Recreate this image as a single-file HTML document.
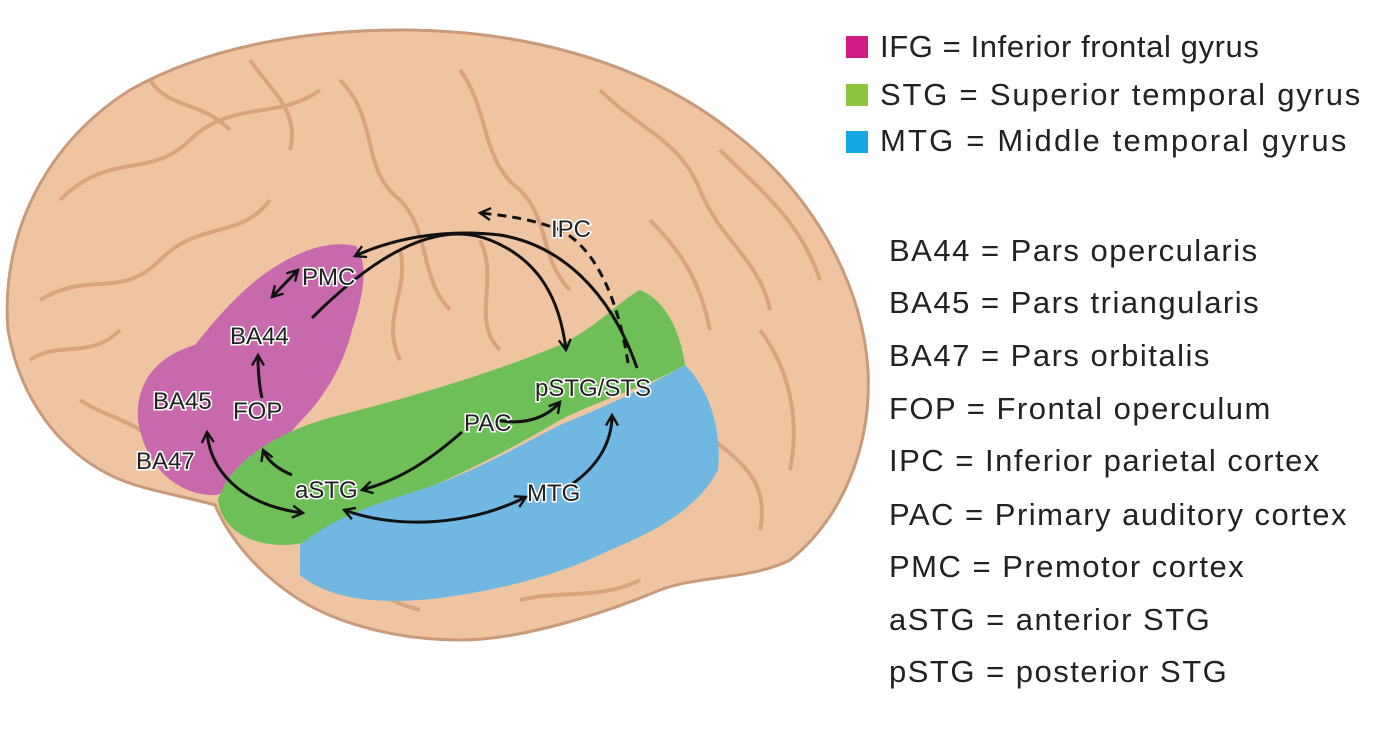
<!DOCTYPE html>
<html><head><meta charset="utf-8"><style>
html,body{margin:0;padding:0;background:#fff;}
body{width:1377px;height:733px;overflow:hidden;position:relative;font-family:"Liberation Sans",Arial,sans-serif;}
.lg{position:absolute;left:889px;font-size:31px;color:#222;line-height:1;letter-spacing:1.5px;white-space:nowrap;}
.sq{position:absolute;left:846px;width:22px;height:22px;}
</style></head><body>
<svg width="880" height="733" style="position:absolute;left:0;top:0">
<defs>
<marker id="a" viewBox="0 0 10 10" refX="8" refY="5" markerWidth="5" markerHeight="5" orient="auto-start-reverse" markerUnits="strokeWidth">
<path d="M1,1 L8,5 L1,9" fill="none" stroke="#111" stroke-width="1.6"/></marker>
</defs>
<path d="M8,330 C0,230 50,140 130,90 C210,45 310,30 400,30 C520,30 640,60 730,130 C810,190 862,280 868,370 C872,450 840,520 790,560 C750,580 700,575 660,590 C600,615 520,640 460,640 C400,640 340,625 300,600 C260,575 230,540 215,505 C180,495 140,490 110,475 C60,450 20,400 8,330 Z" fill="#efc4a0" stroke="#c99a7a" stroke-width="3"/>
<g fill="none" stroke="#cf9a76" stroke-width="4" opacity="0.75">
<path d="M60,200 C110,150 150,180 190,140 C230,100 280,120 320,90"/>
<path d="M40,300 C90,270 120,300 160,260 C200,220 240,240 270,200"/>
<path d="M340,80 C380,120 360,170 400,200 C430,230 420,280 450,310"/>
<path d="M460,70 C490,110 480,160 520,190 C550,220 540,260 570,290"/>
<path d="M600,90 C640,130 680,140 700,190 C720,240 760,260 770,310"/>
<path d="M720,150 C760,190 800,220 820,280"/>
<path d="M760,330 C790,370 800,420 790,470"/>
<path d="M400,250 C410,290 380,320 400,360"/>
<path d="M480,240 C500,280 470,320 500,350"/>
<path d="M80,400 C110,420 140,420 160,450"/>
<path d="M700,430 C740,460 770,480 760,530"/>
<path d="M150,80 C170,110 200,100 230,130"/>
<path d="M30,360 C60,340 90,360 120,330"/>
<path d="M250,60 C270,90 300,110 290,150"/>
<path d="M650,220 C680,250 700,280 710,330"/>
<path d="M330,560 C360,580 380,600 420,610"/>
<path d="M520,600 C560,590 600,600 640,580"/>
</g>
<path d="M138,420 C135,380 160,355 195,345 C215,320 240,290 270,270 C300,250 330,240 356,246 C370,265 362,300 352,330 C342,370 322,400 297,425 C272,455 242,485 217,495 C182,497 145,470 138,420 Z" fill="#c869ae"/>
<path d="M218,500 C230,460 280,430 340,415 C420,395 500,370 560,345 C600,325 620,300 640,290 C665,300 680,330 685,365 C650,385 600,400 560,420 C510,450 460,475 400,500 C350,520 320,545 285,545 C250,545 222,530 218,500 Z" fill="#6fbf58"/>
<path d="M300,545 C330,520 370,505 420,490 C480,470 520,445 560,425 C610,405 650,385 685,365 C710,390 722,430 718,470 C700,505 660,530 610,550 C560,575 500,590 440,598 C380,605 330,600 300,575 Z" fill="#70b8e2"/>
<g fill="none" stroke="#111" stroke-width="3">
<path d="M272,297 L298,270" marker-start="url(#a)" marker-end="url(#a)"/>
<path d="M262,398 C259,385 258,370 258,355" marker-end="url(#a)"/>
<path d="M207,432 C210,470 240,505 303,513" marker-start="url(#a)" marker-end="url(#a)"/>
<path d="M292,475 C280,470 268,462 263,450" marker-end="url(#a)"/>
<path d="M462,432 C430,460 400,480 362,490" marker-end="url(#a)"/>
<path d="M497,420 C520,425 545,420 560,402" marker-end="url(#a)"/>
<path d="M344,510 C400,530 470,525 526,497" marker-start="url(#a)" marker-end="url(#a)"/>
<path d="M566,488 C595,470 612,445 612,415" marker-end="url(#a)"/>
<path d="M312,318 C380,250 440,220 490,240 C540,260 560,300 566,350" marker-end="url(#a)"/>
<path d="M637,368 C610,290 560,245 500,235 C440,228 390,240 355,256" marker-end="url(#a)"/>
<path d="M628,363 C620,310 600,250 560,230 C530,218 500,215 480,213" stroke-dasharray="9,6" marker-end="url(#a)"/>
</g>
<g font-size="24" fill="#222" stroke="#fff" stroke-width="3" paint-order="stroke" font-family="Liberation Sans,Arial,sans-serif">
<text x="302" y="285">PMC</text>
<text x="230" y="344">BA44</text>
<text x="153" y="409">BA45</text>
<text x="233" y="419">FOP</text>
<text x="136" y="469">BA47</text>
<text x="295" y="498">aSTG</text>
<text x="464" y="431">PAC</text>
<text x="535" y="396">pSTG/STS</text>
<text x="527" y="501">MTG</text>
<text x="551" y="237">IPC</text>
</g>
</svg>
<div class="sq" style="top:36px;background:#d01a84"></div>
<div class="sq" style="top:84px;background:#8cc63f"></div>
<div class="sq" style="top:131px;background:#14a9e6"></div>
<div class="lg" style="left:880px;top:31px;letter-spacing:0.6px">IFG = Inferior frontal gyrus</div>
<div class="lg" style="left:880px;top:79px;letter-spacing:1.8px">STG = Superior temporal gyrus</div>
<div class="lg" style="left:880px;top:125px;letter-spacing:2.2px">MTG = Middle temporal gyrus</div>
<div class="lg" style="top:235px">BA44 = Pars opercularis</div>
<div class="lg" style="top:287px">BA45 = Pars triangularis</div>
<div class="lg" style="top:340px">BA47 = Pars orbitalis</div>
<div class="lg" style="top:393px">FOP = Frontal operculum</div>
<div class="lg" style="top:445px">IPC = Inferior parietal cortex</div>
<div class="lg" style="top:499px">PAC = Primary auditory cortex</div>
<div class="lg" style="top:551px">PMC = Premotor cortex</div>
<div class="lg" style="top:604px">aSTG = anterior STG</div>
<div class="lg" style="top:656px">pSTG = posterior STG</div>
</body></html>
